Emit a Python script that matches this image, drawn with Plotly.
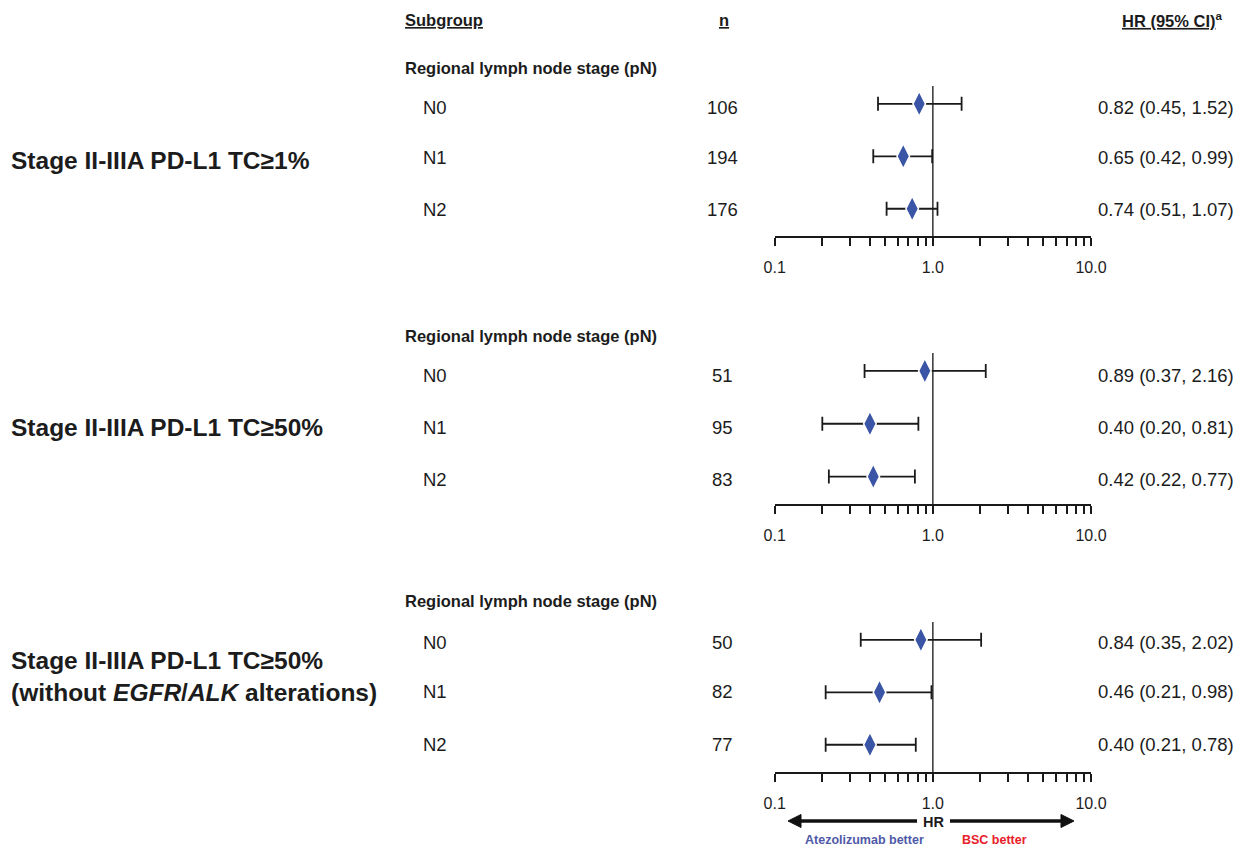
import plotly.graph_objects as go

# ---------------- data ----------------
group_labels = [
    "Stage II-IIIA PD-L1 TC≥1%",
    "Stage II-IIIA PD-L1 TC≥50%",
    "Stage II-IIIA PD-L1 TC≥50%<br>(without <i>EGFR</i>/<i>ALK</i> alterations)",
]
row_labels = ["N0", "N1", "N2"]
header_label = "Regional lymph node stage (pN)"
n_values = [[106, 194, 176], [51, 95, 83], [50, 82, 77]]
hr_values = [[0.82, 0.65, 0.74], [0.89, 0.40, 0.42], [0.84, 0.46, 0.40]]
ci_low = [[0.45, 0.42, 0.51], [0.37, 0.20, 0.22], [0.35, 0.21, 0.21]]
ci_high = [[1.52, 0.99, 1.07], [2.16, 0.81, 0.77], [2.02, 0.98, 0.78]]
tick_values = [0.1, 0.2, 0.3, 0.4, 0.5, 0.6, 0.7, 0.8, 0.9, 1, 2, 3, 4, 5, 6, 7, 8, 9, 10]
tick_labels = ["0.1", "", "", "", "", "", "", "", "", "1.0", "", "", "", "", "", "", "", "", "10.0"]
row_positions = [3, 2, 1]

# ---------------- layout helpers ----------------
W, H = 1240, 856
FONT = "Liberation Sans, Arial, sans-serif"
TXT = "#1c1c1c"
BLUE = "#3a55a5"


def px(x):
    return x / W


def py(y):
    return 1 - y / H


panel_px = [(86, 236), (353, 504), (622, 772)]  # top, bottom (pixels)
xdom = [px(774.7), px(1091)]

fig = go.Figure()
annotations = []
shapes = []

row_text_y = [[107, 157, 209], [375, 427, 479], [642, 691, 744]]
header_y = [68, 336, 601]

for i in range(3):
    sfx = "" if i == 0 else str(i + 1)
    xa, ya = "x" + sfx, "y" + sfx
    fig.add_trace(go.Scatter(
        x=hr_values[i], y=row_positions, mode="markers",
        xaxis=xa, yaxis=ya,
        marker=dict(symbol="diamond-tall", size=18, color=BLUE,
                    line=dict(color="white", width=1.5)),
        error_x=dict(type="data", symmetric=False,
                     array=[h - v for h, v in zip(ci_high[i], hr_values[i])],
                     arrayminus=[v - l for l, v in zip(ci_low[i], hr_values[i])],
                     color="#1a1a1a", thickness=1.8, width=7),
        showlegend=False, hoverinfo="skip",
    ))
    top, bot = panel_px[i]
    ydom = [py(bot), py(top)]
    fig.layout["xaxis" + sfx] = dict(
        type="log", range=[-1, 1], domain=xdom, anchor=ya,
        tickvals=tick_values, ticktext=tick_labels, ticks="outside",
        ticklen=8, tickwidth=1.5, tickcolor="#1a1a1a",
        showline=True, linecolor="#1a1a1a", linewidth=1.8,
        showgrid=False, zeroline=False, ticklabelstandoff=8,
        tickfont=dict(family=FONT, size=16, color=TXT),
        automargin=False,
    )
    fig.layout["yaxis" + sfx] = dict(
        range=[0.48, 3.34], domain=ydom, anchor=xa,
        visible=False, showgrid=False, zeroline=False,
    )
    shapes.append(dict(type="line", xref=xa, yref=ya + " domain",
                       x0=1, x1=1, y0=0, y1=1,
                       line=dict(color="#333333", width=1.5), layer="below"))

    annotations.append(dict(text="<b>" + header_label + "</b>", x=px(403), y=py(header_y[i]),
                            xanchor="left", align="left", yanchor="middle", font=dict(size=16.5)))
    for j in range(3):
        yy = py(row_text_y[i][j])
        annotations.append(dict(text=row_labels[j], x=px(421), y=yy, xanchor="left", align="left",
                                yanchor="middle", font=dict(size=18.5)))
        annotations.append(dict(text=str(n_values[i][j]), x=px(722), y=yy, xanchor="center",
                                yanchor="middle", font=dict(size=18.5)))
        annotations.append(dict(text="%.2f (%.2f, %.2f)" % (hr_values[i][j], ci_low[i][j], ci_high[i][j]),
                                x=px(1236), y=yy, xanchor="right", align="right", yanchor="middle",
                                font=dict(size=18.5)))

# group labels
annotations.append(dict(text="<b>" + group_labels[0] + "</b>", x=px(9), y=py(160),
                        xanchor="left", align="left", yanchor="middle", font=dict(size=24.5)))
annotations.append(dict(text="<b>" + group_labels[1] + "</b>", x=px(9), y=py(427),
                        xanchor="left", align="left", yanchor="middle", font=dict(size=24.5)))
annotations.append(dict(text="<b>" + group_labels[2] + "</b>", x=px(9), y=py(676),
                        xanchor="left", align="left", yanchor="middle", font=dict(size=24.5)))

# column headers
annotations.append(dict(text="<b><u>Subgroup</u></b>", x=px(403), y=py(20),
                        xanchor="left", align="left", yanchor="middle", font=dict(size=16.5)))
annotations.append(dict(text="<b><u>n</u></b>", x=px(724), y=py(20),
                        xanchor="center", yanchor="middle", font=dict(size=16.5)))
annotations.append(dict(text="<b><u>HR (95% CI)</u><sup>a</sup></b>", x=px(1225), y=py(20),
                        xanchor="right", align="right", yanchor="middle", font=dict(size=16.5)))

# bottom HR arrows and labels
annotations.append(dict(text="<b>HR</b>", x=px(933), y=py(822), xanchor="center",
                        yanchor="middle", font=dict(size=14.5)))
ARROW = "#111111"
ay_ = 821
shapes.append(dict(type="line", xref="paper", yref="paper", x0=px(798), x1=px(917),
                   y0=py(ay_), y1=py(ay_), line=dict(color=ARROW, width=3.5)))
shapes.append(dict(type="line", xref="paper", yref="paper", x0=px(950), x1=px(1064),
                   y0=py(ay_), y1=py(ay_), line=dict(color=ARROW, width=3.5)))
shapes.append(dict(type="path", xref="paper", yref="paper",
                   path="M %f,%f L %f,%f L %f,%f Z" % (px(788), py(ay_), px(801), py(ay_ - 6.5),
                                                       px(801), py(ay_ + 6.5)),
                   fillcolor=ARROW, line=dict(color=ARROW, width=1)))
shapes.append(dict(type="path", xref="paper", yref="paper",
                   path="M %f,%f L %f,%f L %f,%f Z" % (px(1074), py(ay_), px(1061), py(ay_ - 6.5),
                                                       px(1061), py(ay_ + 6.5)),
                   fillcolor=ARROW, line=dict(color=ARROW, width=1)))
annotations.append(dict(text="<b>Atezolizumab better</b>", x=px(864), y=py(840), xanchor="center",
                        yanchor="middle", font=dict(size=12.5, color="#4f5aa8")))
annotations.append(dict(text="<b>BSC better</b>", x=px(995), y=py(840), xanchor="center",
                        yanchor="middle", font=dict(size=12.5, color="#e8202a")))

for a in annotations:
    a.setdefault("xref", "paper")
    a.setdefault("yref", "paper")
    a.setdefault("showarrow", False)
    f = a.setdefault("font", {})
    f.setdefault("family", FONT)
    f.setdefault("color", TXT)

fig.update_layout(
    width=W, height=H, autosize=False, margin=dict(l=0, r=0, t=0, b=0),
    paper_bgcolor="white", plot_bgcolor="white",
    font=dict(family=FONT, color=TXT),
    annotations=annotations, shapes=shapes,
)

post = (
    "document.body.style.margin='0';document.body.style.overflow='hidden';"
    "var gd=document.getElementById('{plot_id}');"
    "document.fonts.ready.then(function(){Plotly.react(gd, gd.data, gd.layout);});"
)

fig.write_html(
    "out.html",
    config={"displayModeBar": False, "responsive": False},
    post_script=post,
)
